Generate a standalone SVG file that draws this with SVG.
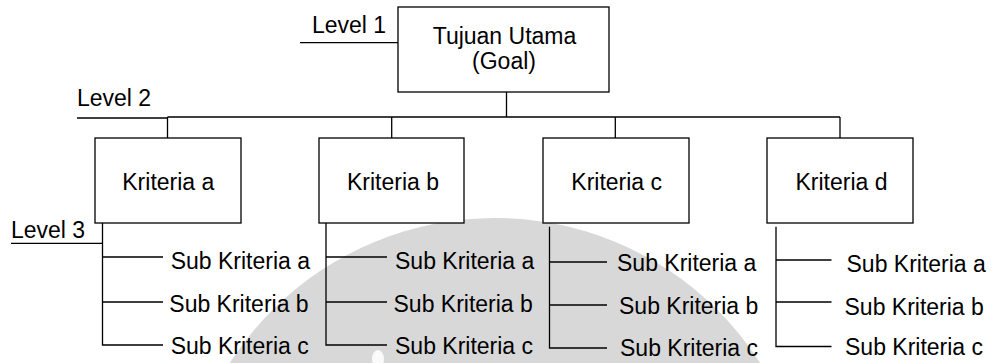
<svg xmlns="http://www.w3.org/2000/svg" width="994" height="363" viewBox="0 0 994 363">
<style>
text{font-family:"Liberation Sans",Arial,sans-serif;font-size:23px;fill:#000}
.c{text-anchor:middle}
.box{fill:#fff;stroke:#000;stroke-width:1.3}
.ln{fill:none;stroke:#000;stroke-width:1.3}
</style>
<rect width="994" height="363" fill="#fff"/>
<g id="watermark">
<circle cx="495" cy="533" r="315" fill="#d8d8d8"/>
<ellipse cx="378" cy="359" rx="6" ry="9" fill="#fafafa"/>
</g>
<g id="connectors" class="ln">
<path d="M300 42.7H398"/>
<path d="M77 118H167.5"/>
<path d="M11 243.3H102.5"/>
<path d="M506.5 92V117M167.5 117H840M167.5 117V138M391.7 117V138M615.3 117V138M840 117V138"/>
<path d="M102.5 223V345H163M102.5 257H163M102.5 302H163"/>
<path d="M326 223V345H387M326 257H387M326 302H387"/>
<path d="M549.5 226.7V348H607M549.5 262H607M549.5 305H607"/>
<path d="M776 226.7V346.5H831.5M776 260H831.5M776 302H831.5"/>
</g>
<g id="level1"><text x="312" y="33">Level 1</text></g>
<g id="level2"><text x="77" y="106">Level 2</text></g>
<g id="level3"><text x="11" y="237.5">Level 3</text></g>
<g id="goal">
<rect class="box" x="398" y="7" width="211" height="85"/>
<text class="c" x="504.5" y="43.5">Tujuan Utama</text>
<text class="c" x="504" y="68.5">(Goal)</text>
</g>
<g id="kriteria-a">
<rect class="box" x="95" y="138" width="146" height="85"/>
<text class="c" x="168.3" y="189.5">Kriteria a</text>
</g>
<g id="kriteria-b">
<rect class="box" x="319" y="138" width="145" height="85"/>
<text class="c" x="393" y="189.5">Kriteria b</text>
</g>
<g id="kriteria-c">
<rect class="box" x="543" y="138" width="146" height="85"/>
<text class="c" x="616.7" y="189.5">Kriteria c</text>
</g>
<g id="kriteria-d">
<rect class="box" x="767" y="138" width="146" height="85"/>
<text class="c" x="841.5" y="189.5">Kriteria d</text>
</g>
<g id="sub-a">
<text x="170.7" y="268.5">Sub Kriteria a</text>
<text x="169.3" y="311.5">Sub Kriteria b</text>
<text x="170.7" y="353.5">Sub Kriteria c</text>
</g>
<g id="sub-b">
<text x="395" y="268.5">Sub Kriteria a</text>
<text x="393.5" y="311.5">Sub Kriteria b</text>
<text x="395" y="353.5">Sub Kriteria c</text>
</g>
<g id="sub-c">
<text x="617" y="271">Sub Kriteria a</text>
<text x="619" y="314">Sub Kriteria b</text>
<text x="620" y="356">Sub Kriteria c</text>
</g>
<g id="sub-d">
<text x="846.5" y="271.5">Sub Kriteria a</text>
<text x="844.5" y="314.5">Sub Kriteria b</text>
<text x="845" y="355">Sub Kriteria c</text>
</g>
</svg>
